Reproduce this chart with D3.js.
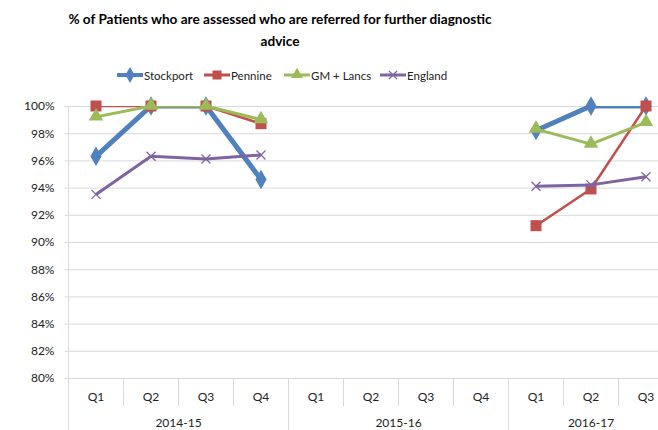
<!DOCTYPE html>
<html>
<head>
<meta charset="utf-8">
<script src="https://cdn.jsdelivr.net/npm/d3@7"></script>
<style>
  body { margin: 0; background: #fff; }
  svg { display: block; font-family: Lato, "Liberation Sans", sans-serif; }
</style>
</head>
<body>
<svg width="658" height="430"></svg>
<script>
const years = ["2014-15", "2015-16", "2016-17"];
const quarters = [["Q1", "Q2", "Q3", "Q4"], ["Q1", "Q2", "Q3", "Q4"], ["Q1", "Q2", "Q3"]];
const yTicks = [80, 82, 84, 86, 88, 90, 92, 94, 96, 98, 100];

const stockport = [96.3, 100, 100, 94.6, null, null, null, null, 98.2, 100, 100];
const pennine = [100, 100, 100, 98.7, null, null, null, null, 91.2, 93.9, 100];
const gmLancs = [99.2, 100, 100, 99.0, null, null, null, null, 98.3, 97.2, 98.8];
const england = [93.5, 96.3, 96.1, 96.4, null, null, null, null, 94.1, 94.2, 94.8];

const seriesNames = ["Stockport", "Pennine", "GM + Lancs", "England"];
const seriesValues = [stockport, pennine, gmLancs, england];

const colours = ["#4F81BD", "#C0504D", "#9BBB59", "#8064A2"];
const widths = [5, 2.5, 3, 3];
const shapes = ["diamond", "square", "triangle", "cross"];

// category keys
let cats = [];
years.forEach(function (yr, i) {
    quarters[i].forEach(function (q) { cats.push(yr + " " + q); });
});

const svg = d3.select("svg");
const plotLeft = 68.5, plotTop = 106, plotBottom = 378, bandW = 55;

const x = d3.scaleBand().domain(cats).range([plotLeft, plotLeft + bandW * cats.length]);
const y = d3.scaleLinear().domain([80, 100]).range([plotBottom, plotTop]);
const cx = function (i) { return x(cats[i]) + x.bandwidth() / 2; };

// title
const title = svg.append("text")
    .attr("text-anchor", "middle")
    .style("font-weight", "bold").style("font-size", "13.6px").attr("fill", "#000");
title.append("tspan").attr("x", 280).attr("y", 24)
    .text("% of Patients who are assessed who are referred for further diagnostic");
title.append("tspan").attr("x", 280).attr("y", 46).text("advice");

// gridlines
svg.append("g").selectAll("line")
    .data(yTicks.slice(1))
    .enter().append("line")
    .attr("x1", plotLeft).attr("x2", 658)
    .attr("y1", function (d) { return y(d) + 0.5; })
    .attr("y2", function (d) { return y(d) + 0.5; })
    .attr("stroke", "#D9D9D9").attr("stroke-width", 1);

// y axis
const yAxis = svg.append("g")
    .attr("transform", "translate(" + plotLeft + ",0)")
    .call(d3.axisLeft(y).tickValues(yTicks).tickSize(4).tickPadding(10)
        .tickFormat(function (d) { return d + "%"; }));
yAxis.select(".domain").remove();
yAxis.selectAll(".tick line").attr("stroke", "#D9D9D9");
yAxis.selectAll(".tick text").style("font-size", "12px").attr("fill", "#222")
    .style("font-family", "Lato, sans-serif");

// left axis line extending into the category area
svg.append("line")
    .attr("x1", plotLeft).attr("x2", plotLeft).attr("y1", plotTop).attr("y2", 430)
    .attr("stroke", "#D9D9D9");

// x axis baseline
svg.append("line")
    .attr("x1", plotLeft).attr("x2", 658).attr("y1", plotBottom + 0.5).attr("y2", plotBottom + 0.5)
    .attr("stroke", "#D9D9D9");

// category separators
let starts = [0];
quarters.forEach(function (q, i) { starts.push(starts[i] + q.length); });
cats.forEach(function (c, i) {
    if (i === 0) return;
    const isGroup = starts.indexOf(i) >= 0;
    svg.append("line")
        .attr("x1", x(c)).attr("x2", x(c))
        .attr("y1", plotBottom).attr("y2", isGroup ? 430 : 406)
        .attr("stroke", "#D9D9D9");
});

// quarter labels
svg.append("g").selectAll("text")
    .data(cats)
    .enter().append("text")
    .attr("x", function (d) { return x(d) + x.bandwidth() / 2; })
    .attr("y", 401)
    .attr("text-anchor", "middle")
    .style("font-size", "12px").attr("fill", "#222")
    .text(function (d) { return d.split(" ")[1]; });

// year labels
svg.append("g").selectAll("text")
    .data(years)
    .enter().append("text")
    .attr("x", function (d, i) {
        return (x(cats[starts[i]]) + x(cats[starts[i + 1] - 1]) + x.bandwidth()) / 2;
    })
    .attr("y", 427)
    .attr("text-anchor", "middle")
    .style("font-size", "12px").attr("fill", "#222")
    .text(function (d) { return d; });

// clip for lines
svg.append("clipPath").attr("id", "plot")
    .append("rect")
    .attr("x", plotLeft).attr("y", plotTop)
    .attr("width", bandW * cats.length).attr("height", plotBottom - plotTop);

const line = d3.line()
    .defined(function (d) { return d !== null; })
    .x(function (d, i) { return cx(i); })
    .y(function (d) { return y(d); });

function drawMarker(g, shape, px, py, col, sz) {
    if (shape === "diamond") {
        g.append("path")
            .attr("d", d3.symbol().type(d3.symbolDiamond).size(sz * sz * 0.9)())
            .attr("transform", "translate(" + px + "," + py + ")")
            .attr("fill", col);
    } else if (shape === "square") {
        g.append("rect")
            .attr("x", px - sz / 2).attr("y", py - sz / 2)
            .attr("width", sz).attr("height", sz)
            .attr("fill", col);
    } else if (shape === "triangle") {
        g.append("path")
            .attr("d", d3.symbol().type(d3.symbolTriangle).size(sz * sz * 0.75)())
            .attr("transform", "translate(" + px + "," + (py - 0.5) + ")")
            .attr("fill", col);
    } else {
        const h = sz / 2;
        g.append("path")
            .attr("d", "M" + (px - h) + "," + (py - h) + "L" + (px + h) + "," + (py + h) +
                "M" + (px - h) + "," + (py + h) + "L" + (px + h) + "," + (py - h))
            .attr("stroke", col).attr("stroke-width", 1.3).attr("fill", "none");
    }
}

seriesValues.forEach(function (vals, s) {
    svg.append("path")
        .datum(vals)
        .attr("clip-path", "url(#plot)")
        .attr("d", line)
        .attr("fill", "none")
        .attr("stroke", colours[s])
        .attr("stroke-width", widths[s])
        .attr("stroke-linejoin", "round");
    const mg = svg.append("g");
    vals.forEach(function (v, i) {
        if (v === null) return;
        drawMarker(mg, shapes[s], cx(i), y(v), colours[s], s === 3 ? 9 : 11);
    });
});

// legend
const legendX = [117, 204, 284, 380];
seriesNames.forEach(function (name, s) {
    const lg = svg.append("g");
    lg.append("line")
        .attr("x1", legendX[s]).attr("x2", legendX[s] + 26)
        .attr("y1", 75).attr("y2", 75)
        .attr("stroke", colours[s]).attr("stroke-width", s === 0 ? 4 : 3);
    drawMarker(lg, shapes[s], legendX[s] + 13, 75, colours[s], s === 3 ? 8 : 9);
    lg.append("text")
        .attr("x", legendX[s] + 27).attr("y", 79.5)
        .style("font-size", "11.5px").attr("fill", "#222")
        .text(name);
});
</script>
</body>
</html>
